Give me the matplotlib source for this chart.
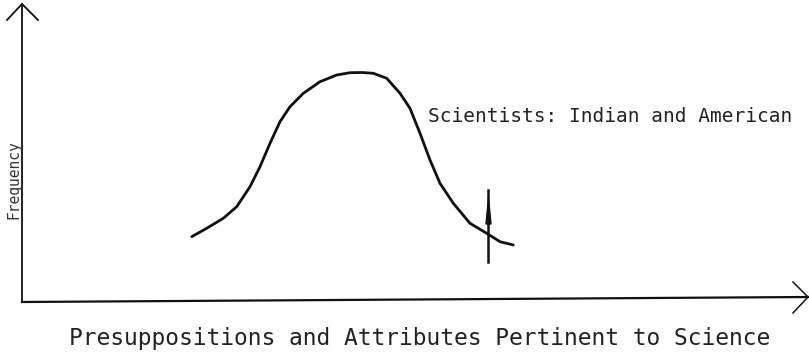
import matplotlib
matplotlib.use("Agg")
import matplotlib.pyplot as plt

# Curve (x: attribute position, y: frequency), origin at axes corner
curve_x = [169.7, 184.7, 201.3, 214.7, 228, 238, 248, 258, 268, 281.3, 298, 314.7, 328,
           340, 351.3, 364.7, 378, 388, 398, 408, 418, 431.3, 448, 464.7, 478, 491.3]
curve_y = [63.3, 71.7, 81.7, 93.3, 113.3, 133.3, 156.7, 178.3, 193.3, 206.7, 218.3, 225, 227.3,
           227.5, 226.7, 221.7, 206.7, 191.7, 166.7, 140, 116.7, 96.7, 76.7, 66.7, 58.3, 55]
# Marker (vertical arrow) position
marker_x = 466.5
marker_y0, marker_y1 = 38, 110

annotation = "Scientists: Indian and American"
xlabel = "Presuppositions and Attributes Pertinent to Science"
ylabel = "Frequency"

fig = plt.figure(figsize=(8.09, 3.52), dpi=100)
ax = fig.add_axes([0, 0, 1, 1])
ax.set_xlim(-22, 787)
ax.set_ylim(-52, 300)
ax.axis("off")

ink = "#111111"
# axes
ax.plot([0, 0], [-2, 296], color=ink, lw=1.3)
ax.plot([0, 786], [-2, 3], color=ink, lw=1.6)
# arrowheads (open chevrons)
ax.plot([-15, 0, 16], [280, 296, 280], color=ink, lw=1.3)
ax.plot([771, 786, 771], [18, 3, -13], color=ink, lw=1.1)

# curve
ax.plot(curve_x, curve_y, color=ink, lw=2.0, solid_capstyle="round", solid_joinstyle="round")

# marker line with arrow
ax.plot([marker_x, marker_x], [marker_y0, marker_y1], color=ink, lw=1.8)
ax.fill([marker_x - 2.5, marker_x, marker_x + 2.5], [76, 102, 76], color=ink)

ax.text(406, 183, annotation, family="DejaVu Sans Mono", fontsize=14, color="#222222",
        va="center", ha="left")
ax.text(398, -45, xlabel, family="DejaVu Sans Mono", fontsize=16.5, color="#222222",
        va="baseline", ha="center")
ax.text(-8, 120, ylabel, family="DejaVu Sans Mono", fontsize=10.5, color="#333333",
        va="center", ha="center", rotation=90)

fig.savefig("out.png", dpi=100)
